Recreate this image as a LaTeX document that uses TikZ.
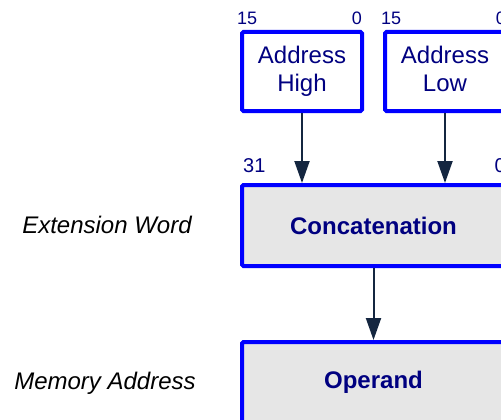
\documentclass[tikz,border=0pt]{standalone}
\usepackage{fontspec}
\setmainfont{Liberation Sans}
\usetikzlibrary{arrows.meta}
\definecolor{boxblue}{RGB}{0,0,255}
\definecolor{textnavy}{RGB}{0,0,128}
\definecolor{arrowdark}{RGB}{20,38,64}
\definecolor{boxgray}{RGB}{230,230,230}
\begin{document}
\begin{tikzpicture}[x=1pt,y=-1pt,
  regbox/.style={draw=boxblue, line width=4pt, rounded corners=1.5pt, inner sep=0pt, outer sep=2pt,
    text=textnavy, align=center},
  wordbox/.style={regbox, fill=boxgray, font=\fontsize{24}{28}\selectfont\bfseries,
    minimum width=263pt, minimum height=81pt},
  halfbox/.style={regbox, fill=white, font=\fontsize{24}{28}\selectfont, text depth=5pt,
    minimum width=120pt, minimum height=79pt},
  bitno/.style={text=textnavy, inner sep=0pt, font=\fontsize{18}{18}\selectfont},
  bitnobig/.style={bitno, font=\fontsize{20}{20}\selectfont},
  sidelabel/.style={inner sep=0pt, font=\fontsize{24}{24}\selectfont\itshape},
  flow/.style={draw=arrowdark, line width=2pt, -{Triangle[length=22pt,width=15pt]}}
]
\useasboundingbox[fill=white] (0,0) rectangle (501,420);

% 16-bit halves of the extension word
\node[halfbox] (ah) at (302,71.5) {Address\\High};
\node[halfbox] (al) at (445,71.5) {Address\\Low};

\node[bitno, anchor=base west] (ah15) at (237,25) {15};
\node[bitno, anchor=base east] (ah0) at (362,25) {0};
\node[bitno, anchor=base west] (al15) at (381,25) {15};
\node[bitno, anchor=base east] (al0) at (506,25) {0};

% 32-bit concatenation and resulting operand
\node[wordbox] (cat) at (373.5,225.5) {Concatenation};
\node[wordbox] (op) at (373.5,382.5) {Operand};

\node[bitnobig, anchor=base west] (cat31) at (243,172) {31};
\node[bitnobig, anchor=base east] (cat0) at (506,172) {0};

% row captions
\node[sidelabel, anchor=base] (extword) at (107,233) {Extension Word};
\node[sidelabel, anchor=base] (memaddr) at (105,389) {Memory Address};

% data flow
\draw[flow] (ah.south) -- (ah.south |- cat.north);
\draw[flow] (al.south) -- (al.south |- cat.north);
\draw[flow] (cat.south) -- (op.north);
\end{tikzpicture}
\end{document}
